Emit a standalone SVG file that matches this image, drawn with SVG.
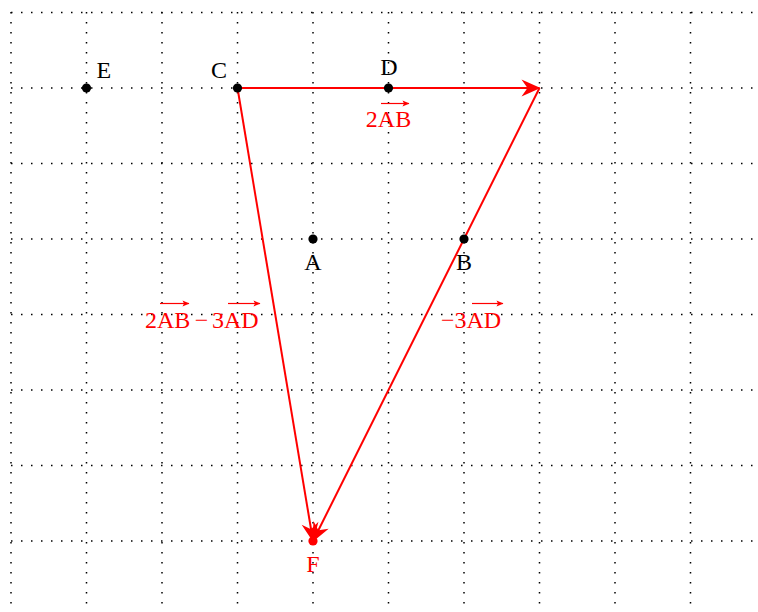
<svg xmlns="http://www.w3.org/2000/svg" width="758" height="612" viewBox="0 0 758 612">
  <style>
    .grid line { stroke: #000; stroke-width: 1.5; stroke-dasharray: 1.5 8.5; }
    .vec { stroke: #ff0000; stroke-width: 2; fill: none; }
    .ov { stroke: #ff0000; stroke-width: 1.2; fill: none; }
    .lbl { font-family: "Liberation Serif", "DejaVu Serif", serif; font-size: 24px; fill: #000; }
    .red { fill: #ff0000; }
    .pt { fill: #000; }
  </style>
  <defs>
    <marker id="stealth" markerUnits="userSpaceOnUse" viewBox="-20 -10 22 20" refX="0" refY="0" markerWidth="22" markerHeight="20" orient="auto" overflow="visible">
      <path d="M1,0 L-18,-8.5 L-12,0 L-18,8.5 Z" fill="#ff0000"/>
    </marker>
    <marker id="small" markerUnits="userSpaceOnUse" viewBox="-8 -4 10 8" refX="0" refY="0" markerWidth="10" markerHeight="8" orient="auto" overflow="visible">
      <path d="M0.5,0 L-6.5,-3 L-5,0 L-6.5,3 Z" fill="#ff0000"/>
    </marker>
  </defs>
  <rect width="758" height="612" fill="#fff"/>

  <g id="grid" class="grid">
    <line x1="11" y1="12.5" x2="758" y2="12.5"/>
    <line x1="11" y1="88" x2="758" y2="88"/>
    <line x1="11" y1="163.5" x2="758" y2="163.5"/>
    <line x1="11" y1="239" x2="758" y2="239"/>
    <line x1="11" y1="314.5" x2="758" y2="314.5"/>
    <line x1="11" y1="390" x2="758" y2="390"/>
    <line x1="11" y1="465.5" x2="758" y2="465.5"/>
    <line x1="11" y1="541" x2="758" y2="541"/>
    <line x1="11" y1="12" x2="11" y2="612"/>
    <line x1="86.5" y1="12" x2="86.5" y2="612"/>
    <line x1="162" y1="12" x2="162" y2="612"/>
    <line x1="237.5" y1="12" x2="237.5" y2="612"/>
    <line x1="313" y1="12" x2="313" y2="612"/>
    <line x1="388.5" y1="12" x2="388.5" y2="612"/>
    <line x1="464" y1="12" x2="464" y2="612"/>
    <line x1="539.5" y1="12" x2="539.5" y2="612"/>
    <line x1="615" y1="12" x2="615" y2="612"/>
    <line x1="690.5" y1="12" x2="690.5" y2="612"/>
  </g>

  <g id="connectors">
    <line class="vec" x1="237.5" y1="88" x2="539.5" y2="88" marker-end="url(#stealth)"/>
    <line class="vec" x1="539.5" y1="88" x2="313" y2="541" marker-end="url(#stealth)"/>
    <line class="vec" x1="237.5" y1="88" x2="313" y2="541" marker-end="url(#stealth)"/>
  </g>

  <g id="node-E">
    <circle class="pt" cx="86.5" cy="88" r="4.6"/>
    <text class="lbl" x="96.5" y="78">E</text>
  </g>
  <g id="node-C">
    <circle class="pt" cx="237.5" cy="88" r="4.6"/>
    <text class="lbl" x="211" y="78">C</text>
  </g>
  <g id="node-D">
    <circle class="pt" cx="388.5" cy="88" r="4.6"/>
    <text class="lbl" x="389" y="75" text-anchor="middle">D</text>
  </g>
  <g id="node-A">
    <circle class="pt" cx="313" cy="239" r="4.6"/>
    <text class="lbl" x="313" y="270" text-anchor="middle">A</text>
  </g>
  <g id="node-B">
    <circle class="pt" cx="464" cy="239" r="4.6"/>
    <text class="lbl" x="464" y="270" text-anchor="middle">B</text>
  </g>
  <g id="node-F">
    <circle class="red" cx="313" cy="541" r="4.6"/>
    <text class="lbl red" x="313" y="572" text-anchor="middle">F</text>
  </g>

  <g id="label-2AB">
    <text class="lbl red" x="388.5" y="127" text-anchor="middle">2AB</text>
    <line class="ov" x1="381" y1="103.5" x2="409" y2="103.5" marker-end="url(#small)"/>
  </g>
  <g id="label-2AB-3AD">
    <text class="lbl red" x="145" y="328">2AB</text>
    <text class="lbl red" x="201.5" y="328" text-anchor="middle">−</text>
    <text class="lbl red" x="212" y="328">3AD</text>
    <line class="ov" x1="160" y1="303.5" x2="189" y2="303.5" marker-end="url(#small)"/>
    <line class="ov" x1="228" y1="303.5" x2="260" y2="303.5" marker-end="url(#small)"/>
  </g>
  <g id="label-m3AD">
    <text class="lbl red" x="441" y="328">−3AD</text>
    <line class="ov" x1="472" y1="303.5" x2="503" y2="303.5" marker-end="url(#small)"/>
  </g>
</svg>
